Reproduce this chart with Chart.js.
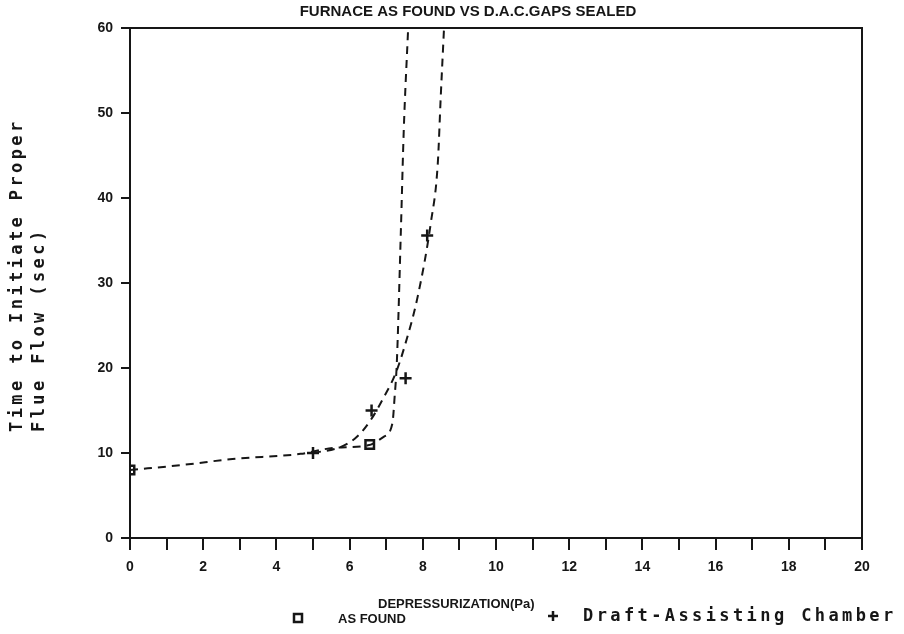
<!DOCTYPE html>
<html>
<head>
<meta charset="utf-8">
<script src="https://cdn.jsdelivr.net/npm/chart.js@4.4.1/dist/chart.umd.min.js"></script>
<style>
html,body{margin:0;padding:0;background:#fff;}
#box{width:904px;height:634px;}
</style>
</head>
<body>
<div id="box"><canvas id="canvas"></canvas></div>
<script>
const titleText="FURNACE AS FOUND VS D.A.C.GAPS SEALED";
const yTitle=["Time to Initiate Proper","Flue Flow (sec)"];
const xTitle="DEPRESSURIZATION(Pa)";
const seriesNames=["AS FOUND","Draft-Assisting Chamber"];
const xTicks=[0,2,4,6,8,10,12,14,16,18,20];
const yTicks=[0,10,20,30,40,50,60];

// measured points
const foundX=[0,6.55];
const foundY=[8,11];
const draftX=[5,6.6,7.53,8.12];
const draftY=[10,15,18.8,35.6];

// hand drawn dashed fit curves
const foundCurveX=[0,1.45,2.8,4.66,5.56,6.5,6.93,7.17,7.23,7.29,7.4,7.48,7.6];
const foundCurveY=[8,8.6,9.3,9.9,10.6,10.9,11.9,13.5,16.6,20.6,36,48,60];
const draftCurveX=[5,5.75,6.2,6.58,6.94,7.26,7.5,7.86,8.22,8.41,8.49,8.58];
const draftCurveY=[10,10.7,11.9,13.9,16.6,19.4,22.5,28.4,37.1,44.1,51.9,60];

const ink="#161616";
const narrow="'Liberation Sans Narrow','Arial Narrow',sans-serif";
const mono="'DejaVu Sans Mono',monospace";

function pts(xs,ys){
    return xs.map((x,i)=>({x:x,y:ys[i]}));
}

const overlay={
    id:"overlay",
    afterDraw(chart){
        const ctx=chart.ctx;
        const a=chart.chartArea;
        ctx.save();
        ctx.strokeStyle=ink;
        ctx.lineWidth=2;
        ctx.strokeRect(a.left,a.top,a.right-a.left,a.bottom-a.top);
        ctx.fillStyle=ink;
        ctx.font="bold 15px "+narrow;
        ctx.textAlign="center";
        ctx.textBaseline="middle";
        ctx.fillText(titleText,468,12);
        ctx.textAlign="left";
        ctx.font="bold 13px "+narrow;
        ctx.fillText(xTitle,378,604);
        ctx.fillText(seriesNames[0],338,619);
        ctx.lineWidth=2.5;
        ctx.strokeRect(294,614,8,8);
        ctx.beginPath();
        ctx.moveTo(548,616);ctx.lineTo(558,616);
        ctx.moveTo(553,611);ctx.lineTo(553,621);
        ctx.stroke();
        ctx.font="bold 17px "+mono;
        ctx.letterSpacing="3.4px";
        ctx.fillText(seriesNames[1],583,617);
        ctx.translate(18,432);
        ctx.rotate(-Math.PI/2);
        ctx.fillText(yTitle[0],0,0);
        ctx.fillText(yTitle[1],0,22);
        ctx.restore();
    }
};

const axisBase={
    type:"linear",
    border:{display:true,color:ink,width:2},
    grid:{drawOnChartArea:false,color:ink,lineWidth:2},
    ticks:{color:ink,font:{family:narrow,size:14,weight:"bold"}}
};

new Chart(document.getElementById("canvas"),{
    type:"scatter",
    data:{
        datasets:[
            {
                label:seriesNames[0]+" fit",
                data:pts(foundCurveX,foundCurveY),
                showLine:true,
                borderColor:ink,
                borderWidth:2,
                borderDash:[8,6],
                pointRadius:0,
                cubicInterpolationMode:"monotone"
            },
            {
                label:seriesNames[1]+" fit",
                data:pts(draftCurveX,draftCurveY),
                showLine:true,
                borderColor:ink,
                borderWidth:2,
                borderDash:[8,6],
                pointRadius:0,
                cubicInterpolationMode:"monotone"
            },
            {
                label:seriesNames[0],
                data:pts(foundX,foundY),
                pointStyle:"rect",
                pointRadius:6,
                borderColor:ink,
                backgroundColor:"#fff",
                borderWidth:2.5
            },
            {
                label:seriesNames[1],
                data:pts(draftX,draftY),
                pointStyle:"cross",
                pointRadius:6,
                borderColor:ink,
                borderWidth:2.5
            }
        ]
    },
    options:{
        responsive:true,
        maintainAspectRatio:false,
        animation:false,
        layout:{padding:{left:0,right:42,top:28,bottom:0}},
        plugins:{
            legend:{display:false},
            tooltip:{enabled:false}
        },
        scales:{
            x:{
                ...axisBase,
                min:0,max:20,
                grid:{...axisBase.grid,tickLength:12},
                ticks:{
                    ...axisBase.ticks,
                    stepSize:1,
                    padding:9,
                    maxRotation:0,
                    autoSkip:false,
                    callback:v=>xTicks.includes(v)?String(v):""
                },
                afterFit:s=>{s.height=96;}
            },
            y:{
                ...axisBase,
                min:0,max:60,
                grid:{...axisBase.grid,tickLength:9},
                ticks:{
                    ...axisBase.ticks,
                    stepSize:10,
                    padding:8,
                    callback:v=>yTicks.includes(v)?String(v):""
                },
                afterFit:s=>{s.width=130;}
            }
        }
    },
    plugins:[overlay]
});
</script>
</body>
</html>
